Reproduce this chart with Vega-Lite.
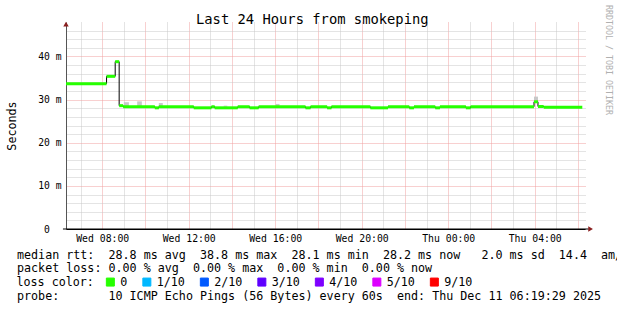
{
  "$schema": "https://vega.github.io/schema/vega-lite/v6.json",
  "width": 519,
  "height": 207,
  "autosize": {"type": "none"},
  "padding": {"left": 66, "top": 22, "right": 32, "bottom": 81},
  "background": "#ffffff",
  "title": {
    "text": "Last 24 Hours from smokeping",
    "font": "DejaVu Sans Mono",
    "fontSize": 13.8,
    "fontWeight": "normal",
    "color": "#000000",
    "anchor": "start",
    "frame": "group",
    "dx": 130,
    "baseline": "alphabetic",
    "offset": -33
  },
  "config": {
    "view": {"stroke": null},
    "font": "DejaVu Sans Mono"
  },
  "datasets": {
    "median": [
      {"t": "2025-12-10T06:19:29", "t2": "2025-12-10T08:12:00", "v": 33.7, "loss": "0"},
      {"t": "2025-12-10T08:12:00", "t2": "2025-12-10T08:36:00", "v": 35.4, "loss": "0"},
      {"t": "2025-12-10T08:36:00", "t2": "2025-12-10T08:47:00", "v": 38.8, "loss": "0"},
      {"t": "2025-12-10T08:47:00", "t2": "2025-12-10T08:58:00", "v": 28.6, "loss": "0"},
      {"t": "2025-12-10T08:58:00", "t2": "2025-12-10T10:26:00", "v": 28.35, "loss": "0"},
      {"t": "2025-12-10T10:26:00", "t2": "2025-12-10T10:37:00", "v": 28.1, "loss": "0"},
      {"t": "2025-12-10T10:37:00", "t2": "2025-12-10T12:14:00", "v": 28.35, "loss": "0"},
      {"t": "2025-12-10T12:14:00", "t2": "2025-12-10T13:03:00", "v": 28.1, "loss": "0"},
      {"t": "2025-12-10T13:03:00", "t2": "2025-12-10T13:12:00", "v": 28.35, "loss": "0"},
      {"t": "2025-12-10T13:12:00", "t2": "2025-12-10T14:16:00", "v": 28.1, "loss": "0"},
      {"t": "2025-12-10T14:16:00", "t2": "2025-12-10T14:49:00", "v": 28.35, "loss": "0"},
      {"t": "2025-12-10T14:49:00", "t2": "2025-12-10T15:14:00", "v": 28.1, "loss": "0"},
      {"t": "2025-12-10T15:14:00", "t2": "2025-12-10T17:24:00", "v": 28.35, "loss": "0"},
      {"t": "2025-12-10T17:24:00", "t2": "2025-12-10T17:38:00", "v": 28.1, "loss": "0"},
      {"t": "2025-12-10T17:38:00", "t2": "2025-12-10T18:24:00", "v": 28.35, "loss": "0"},
      {"t": "2025-12-10T18:24:00", "t2": "2025-12-10T18:36:00", "v": 28.1, "loss": "0"},
      {"t": "2025-12-10T18:36:00", "t2": "2025-12-10T20:24:00", "v": 28.35, "loss": "0"},
      {"t": "2025-12-10T20:24:00", "t2": "2025-12-10T21:13:00", "v": 28.1, "loss": "0"},
      {"t": "2025-12-10T21:13:00", "t2": "2025-12-10T22:12:00", "v": 28.35, "loss": "0"},
      {"t": "2025-12-10T22:12:00", "t2": "2025-12-10T22:25:00", "v": 28.1, "loss": "0"},
      {"t": "2025-12-10T22:25:00", "t2": "2025-12-10T23:24:00", "v": 28.35, "loss": "0"},
      {"t": "2025-12-10T23:24:00", "t2": "2025-12-10T23:37:00", "v": 28.1, "loss": "0"},
      {"t": "2025-12-10T23:37:00", "t2": "2025-12-11T00:49:00", "v": 28.35, "loss": "0"},
      {"t": "2025-12-11T00:49:00", "t2": "2025-12-11T01:02:00", "v": 28.1, "loss": "0"},
      {"t": "2025-12-11T01:02:00", "t2": "2025-12-11T03:58:00", "v": 28.35, "loss": "0"},
      {"t": "2025-12-11T03:58:00", "t2": "2025-12-11T04:09:00", "v": 29.5, "loss": "0"},
      {"t": "2025-12-11T04:09:00", "t2": "2025-12-11T04:25:00", "v": 28.4, "loss": "0"},
      {"t": "2025-12-11T04:25:00", "t2": "2025-12-11T06:12:00", "v": 28.25, "loss": "0"}
    ],
    "smoke": [
      {"t": "2025-12-10T09:00:00", "t2": "2025-12-10T09:14:00", "hi": 29.4, "lo": 28.35},
      {"t": "2025-12-10T09:37:00", "t2": "2025-12-10T09:50:00", "hi": 29.6, "lo": 28.35},
      {"t": "2025-12-10T10:37:00", "t2": "2025-12-10T10:48:00", "hi": 29.2, "lo": 28.35},
      {"t": "2025-12-10T13:37:00", "t2": "2025-12-10T13:47:00", "hi": 28.6, "lo": 28.35},
      {"t": "2025-12-10T16:01:00", "t2": "2025-12-10T16:12:00", "hi": 29.0, "lo": 28.35},
      {"t": "2025-12-11T03:58:00", "t2": "2025-12-11T04:09:00", "hi": 30.7, "lo": 29.5}
    ],
    "xaxisline": [
      {"t": "2025-12-10T06:11:00", "t2": "2025-12-11T06:30:00", "v": 0}
    ],
    "xarrow": [
      {"t": "2025-12-11T06:35:00", "v": 0}
    ],
    "yarrow": [
      {"t": "2025-12-10T06:19:29", "v": 47.5}
    ]
  },
  "encoding": {
    "x": {
      "field": "t",
      "type": "temporal",
      "scale": {
        "domain": [
          {"year": 2025, "month": 12, "date": 10, "hours": 6, "minutes": 19, "seconds": 29},
          {"year": 2025, "month": 12, "date": 11, "hours": 6, "minutes": 19, "seconds": 29}
        ]
      },
      "axis": {
        "orient": "bottom",
        "tickCount": 24,
        "labelExpr": "hours(datum.value) % 4 == 0 ? timeFormat(datum.value, '%a %H:%M') : ''",
        "labelFont": "DejaVu Sans Mono",
        "labelFontSize": 9.8,
        "labelColor": "#000000",
        "labelPadding": 4,
        "labelOverlap": false,
        "labelFlush": false,
        "labelBound": false,
        "ticks": false,
        "tickSize": 0,
        "domainColor": "#000000",
        "grid": true,
        "gridColor": {"condition": {"test": "hours(datum.value) % 2 == 0", "value": "#f0a0a0"}, "value": "#c8c8c8"},
        "gridDash": [1, 1],
        "title": [
          "median rtt:\u00a0\u00a028.8\u00a0ms\u00a0avg\u00a0\u00a038.8\u00a0ms\u00a0max\u00a0\u00a028.1\u00a0ms\u00a0min\u00a0\u00a028.2\u00a0ms\u00a0now\u00a0\u00a0\u00a02.0\u00a0ms\u00a0sd\u00a0\u00a014.4\u00a0\u00a0am/s",
          "packet loss:\u00a00.00\u00a0%\u00a0avg\u00a0\u00a00.00\u00a0%\u00a0max\u00a0\u00a00.00\u00a0%\u00a0min\u00a0\u00a00.00\u00a0%\u00a0now",
          "\u200b",
          "probe:\u00a0\u00a0\u00a0\u00a0\u00a0\u00a0\u00a010\u00a0ICMP\u00a0Echo\u00a0Pings\u00a0(56\u00a0Bytes)\u00a0every\u00a060s\u00a0\u00a0end:\u00a0Thu\u00a0Dec\u00a011\u00a006:19:29\u00a02025"
        ],
        "titleFont": "DejaVu Sans Mono",
        "titleFontSize": 11.7,
        "titleFontWeight": "normal",
        "titleColor": "#000000",
        "titleAlign": "left",
        "titleAnchor": "start",
        "titleX": -49.5,
        "titleY": 29.3,
        "titleBaseline": "alphabetic",
        "titleLineHeight": 13.7,
        "titleLimit": 2000
      }
    }
  },
  "resolve": {"axis": {"y": "independent"}},
  "layer": [
    {
      "data": {"name": "smoke"},
      "mark": {"type": "rect", "color": "#c8c8c8"},
      "encoding": {
        "x2": {"field": "t2"},
        "y": {
          "field": "hi",
          "type": "quantitative",
          "scale": {"domain": [0, 48], "nice": false, "zero": true},
          "axis": {
            "orient": "left",
            "values": [0, 2, 4, 6, 8, 10, 12, 14, 16, 18, 20, 22, 24, 26, 28, 30, 32, 34, 36, 38, 40, 42, 44, 46],
            "labelExpr": "datum.value % 10 == 0 ? (datum.value == 0 ? '0\u00a0\u00a0\u200b' : datum.value + '\u00a0m') : ''",
            "labelFont": "DejaVu Sans Mono",
            "labelFontSize": 9.7,
            "labelColor": "#000000",
            "labelPadding": 5,
            "labelOverlap": false,
            "labelFlush": false,
            "labelBound": false,
            "ticks": false,
            "tickSize": 0,
            "domainColor": "#555555",
            "grid": true,
            "gridColor": {"condition": {"test": "datum.value % 10 == 0", "value": "#f0a0a0"}, "value": "#c8c8c8"},
            "gridDash": [1, 1],
            "title": "Seconds",
            "titleFont": "DejaVu Sans Mono",
            "titleFontSize": 11.7,
            "titleFontWeight": "normal",
            "titleColor": "#000000",
            "titleAngle": -90,
            "titleAlign": "center",
            "titleBaseline": "middle",
            "titleX": -55,
            "titleY": 103.5
          }
        },
        "y2": {"field": "lo"}
      }
    },
    {
      "data": {"name": "median"},
      "mark": {"type": "line", "interpolate": "step-after", "color": "#000000", "strokeWidth": 1},
      "encoding": {
        "y": {"field": "v", "type": "quantitative", "axis": null}
      }
    },
    {
      "data": {"name": "median"},
      "mark": {"type": "rule", "strokeWidth": 3, "strokeCap": "butt"},
      "encoding": {
        "x2": {"field": "t2"},
        "y": {"field": "v", "type": "quantitative", "axis": null},
        "color": {
          "field": "loss",
          "type": "nominal",
          "scale": {
            "domain": ["0", "1/10", "2/10", "3/10", "4/10", "5/10", "9/10"],
            "range": ["#26ff00", "#00b8ff", "#0059ff", "#5e00ff", "#7e00ff", "#dd00ff", "#ff0000"]
          },
          "legend": {
            "orient": "none",
            "legendX": -49.5,
            "legendY": 254,
            "direction": "horizontal",
            "columns": 7,
            "title": "loss color:",
            "titleOrient": "left",
            "titleFont": "DejaVu Sans Mono",
            "titleFontSize": 11.7,
            "titleFontWeight": "normal",
            "titleColor": "#000000",
            "titlePadding": 10,
            "labelFont": "DejaVu Sans Mono",
            "labelFontSize": 11.7,
            "labelColor": "#000000",
            "labelOffset": 4,
            "columnPadding": 12.5,
            "symbolType": "square",
            "symbolSize": 64,
            "encode": {
              "symbols": {
                "update": {
                  "fill": {"scale": "color", "field": "value"},
                  "stroke": {"value": "#000000"},
                  "strokeWidth": {"value": 1},
                  "opacity": {"value": 1}
                }
              }
            }
          }
        }
      }
    },
    {
      "data": {"name": "xaxisline"},
      "mark": {"type": "rule", "color": "#000000", "strokeWidth": 1},
      "encoding": {
        "x2": {"field": "t2"},
        "y": {"field": "v", "type": "quantitative", "axis": null}
      }
    },
    {
      "data": {"name": "xarrow"},
      "mark": {"type": "point", "shape": "triangle-right", "filled": true, "color": "#8b2020", "size": 30, "opacity": 1},
      "encoding": {
        "y": {"field": "v", "type": "quantitative", "axis": null}
      }
    },
    {
      "data": {"name": "yarrow"},
      "mark": {"type": "point", "shape": "triangle-up", "filled": true, "color": "#8b2020", "size": 30, "opacity": 1},
      "encoding": {
        "y": {
          "field": "v",
          "type": "quantitative",
          "axis": {
            "orient": "right",
            "labels": false,
            "ticks": false,
            "domain": false,
            "grid": false,
            "title": "RRDTOOL / TOBI OETIKER",
            "titleFont": "DejaVu Sans Mono",
            "titleFontSize": 8.3,
            "titleFontWeight": "normal",
            "titleColor": "#b0b0b0",
            "titleAngle": 90,
            "titleAlign": "center",
            "titleBaseline": "middle",
            "titleX": 22.7,
            "titleY": 37.5
          }
        }
      }
    }
  ]
}
